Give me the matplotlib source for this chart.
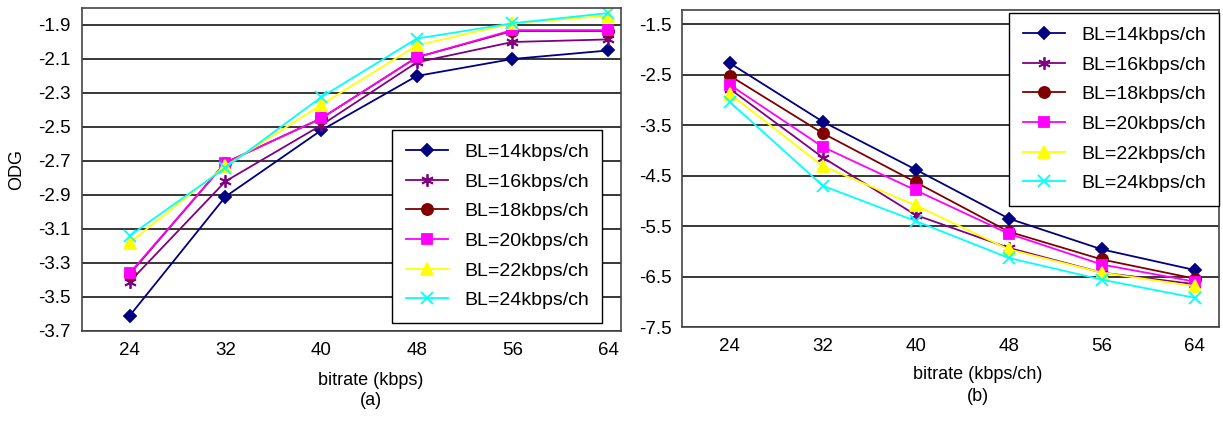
import matplotlib
matplotlib.use("Agg")
import matplotlib.pyplot as plt

plt.rcParams['font.family'] = ['Liberation Sans', 'DejaVu Sans']
plt.rcParams['axes.unicode_minus'] = False

bitrate = [24, 32, 40, 48, 56, 64]
labels = ['BL=14kbps/ch', 'BL=16kbps/ch', 'BL=18kbps/ch',
          'BL=20kbps/ch', 'BL=22kbps/ch', 'BL=24kbps/ch']

# panel (a)
odg_a_14 = [-3.61, -2.91, -2.52, -2.20, -2.10, -2.05]
odg_a_16 = [-3.41, -2.82, -2.49, -2.12, -2.00, -1.985]
odg_a_18 = [-3.365, -2.71, -2.45, -2.09, -1.935, -1.935]
odg_a_20 = [-3.36, -2.71, -2.45, -2.09, -1.93, -1.93]
odg_a_22 = [-3.18, -2.73, -2.37, -2.02, -1.89, -1.845]
odg_a_24 = [-3.14, -2.74, -2.325, -1.98, -1.89, -1.83]

# panel (b)
odg_b_14 = [-2.27, -3.43, -4.38, -5.35, -5.96, -6.37]
odg_b_16 = [-2.78, -4.14, -5.28, -5.93, -6.42, -6.65]
odg_b_18 = [-2.52, -3.66, -4.63, -5.61, -6.16, -6.54]
odg_b_20 = [-2.70, -3.93, -4.79, -5.65, -6.26, -6.60]
odg_b_22 = [-2.88, -4.31, -5.09, -5.96, -6.42, -6.69]
odg_b_24 = [-3.04, -4.70, -5.40, -6.13, -6.56, -6.92]

colors = ['#000080', '#800080', '#800000', '#ff00ff', '#ffff00', '#00ffff']
markers = ['D', (6, 2, 0), 'o', 's', '^', 'x']
msizes = [6, 9, 8, 7, 8, 8]

fig = plt.figure(figsize=(12.23, 4.21), dpi=100)
ax1 = fig.add_axes([0.067, 0.214, 0.441, 0.767])
ax2 = fig.add_axes([0.558, 0.223, 0.439, 0.753])

series_a = [odg_a_14, odg_a_16, odg_a_18, odg_a_20, odg_a_22, odg_a_24]
series_b = [odg_b_14, odg_b_16, odg_b_18, odg_b_20, odg_b_22, odg_b_24]

leg_kw = dict(fontsize=14, fancybox=False, edgecolor='black', framealpha=1,
              labelspacing=0.62, handlelength=2.2, handletextpad=0.8,
              borderpad=0.7, borderaxespad=0)

for ax, series in [(ax1, series_a), (ax2, series_b)]:
    for ys, c, m, ms, lab in zip(series, colors, markers, msizes, labels):
        ax.plot(bitrate, ys, color=c, marker=m, markersize=ms, linewidth=1.3,
                markeredgewidth=1.3, label=lab)
    ax.set_xticks(bitrate)
    ax.tick_params(length=0, labelsize=13.5, pad=8)
    ax.yaxis.grid(True, color='black', linewidth=1.1)
    ax.set_axisbelow(True)
    for sp in ax.spines.values():
        sp.set_color('#444444')
        sp.set_linewidth(1.2)

ax1.set_xlim(20, 65.1)
ax1.set_ylim(-3.7, -1.8)
ax1.set_yticks([-3.7, -3.5, -3.3, -3.1, -2.9, -2.7, -2.5, -2.3, -2.1, -1.9])
ax1.set_ylabel('ODG', fontsize=13)
ax1.yaxis.set_label_coords(-0.105, 0.5)
ax1.set_xlabel('bitrate (kbps)\n(a)', fontsize=13, linespacing=1.25)
ax1.xaxis.set_label_coords(0.535, -0.128)
ax1.legend(loc='lower right', bbox_to_anchor=(0.965, 0.025), **leg_kw)

ax2.set_xlim(19.93, 66.1)
ax2.set_ylim(-7.5, -1.22)
ax2.set_yticks([-7.5, -6.5, -5.5, -4.5, -3.5, -2.5, -1.5])
ax2.set_xlabel('bitrate (kbps/ch)\n(b)', fontsize=13, linespacing=1.35)
ax2.xaxis.set_label_coords(0.55, -0.123)
ax2.legend(loc='upper right', bbox_to_anchor=(1.0, 0.992), **leg_kw)

fig.savefig('out.png', dpi=100)
